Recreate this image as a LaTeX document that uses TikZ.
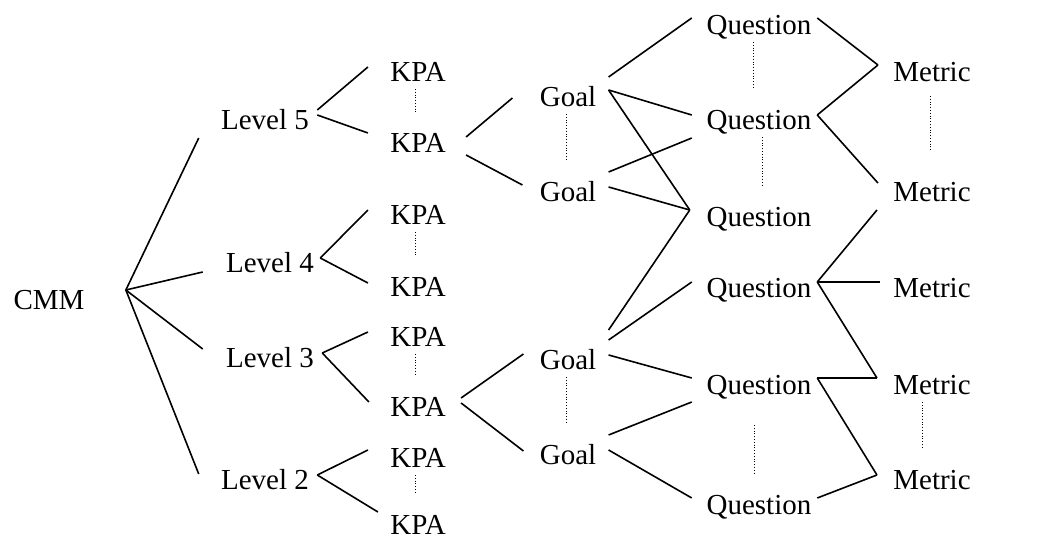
\documentclass[tikz,border=0pt]{standalone}
\usepackage{fontspec}
\setmainfont{Liberation Serif}
\tikzset{
  item/.style={inner sep=0pt, text height=9.6pt, text depth=0pt, font=\fontsize{14.5pt}{17pt}\selectfont},
  link/.style={line width=0.8pt},
  dotline/.style={densely dotted, line width=0.4pt, shorten <=3.5pt, shorten >=10.5pt}
}
\begin{document}
\begin{tikzpicture}[x=0.5pt,y=-0.5pt]
        \useasboundingbox (0,0) rectangle (1050,539);

        % Root
        \node[item] (cmm) at (49,300) {CMM};

        % Maturity levels
        \node[item] (l5) at (265,120) {Level 5};
        \node[item] (l4) at (270,263) {Level 4};
        \node[item] (l3) at (270,358) {Level 3};
        \node[item] (l2) at (265,480) {Level 2};

        % Key process areas
        \node[item] (k1) at (418,72) {KPA};
        \node[item] (k2) at (418,143) {KPA};
        \node[item] (k3) at (418,215) {KPA};
        \node[item] (k4) at (418,287) {KPA};
        \node[item] (k5) at (418,337) {KPA};
        \node[item] (k6) at (418,407) {KPA};
        \node[item] (k7) at (418,458) {KPA};
        \node[item] (k8) at (418,525) {KPA};

        % Goals
        \node[item] (g1) at (568,97) {Goal};
        \node[item] (g2) at (568,192) {Goal};
        \node[item] (g3) at (568,360) {Goal};
        \node[item] (g4) at (568,455) {Goal};

        % Questions
        \node[item] (q1) at (759,25) {Question};
        \node[item] (q2) at (759,120) {Question};
        \node[item] (q3) at (759,217) {Question};
        \node[item] (q4) at (759,288) {Question};
        \node[item] (q5) at (759,385) {Question};
        \node[item] (q6) at (759,505) {Question};

        % Metrics
        \node[item] (m1) at (932,72) {Metric};
        \node[item] (m2) at (932,192) {Metric};
        \node[item] (m3) at (932,288) {Metric};
        \node[item] (m4) at (932,385) {Metric};
        \node[item] (m5) at (932,480) {Metric};

        % CMM to levels
        \draw[link] ([shift={(41,-10)}]cmm.east) -- ([shift={(-22,18)}]l5.west);
        \draw[link] ([shift={(41,-10)}]cmm.east) -- ([shift={(-23,9)}]l4.west);
        \draw[link] ([shift={(41,-10)}]cmm.east) -- ([shift={(-23,-9)}]l3.west);
        \draw[link] ([shift={(41,-10)}]cmm.east) -- ([shift={(-22,-6)}]l2.west);

        % Levels to KPAs
        \draw[link] ([shift={(8,-10)}]l5.east) -- ([shift={(-22,-5)}]k1.west);
        \draw[link] ([shift={(8,-5)}]l5.east) -- ([shift={(-22,-10)}]k2.west);
        \draw[link] ([shift={(6,-5)}]l4.east) -- ([shift={(-22,-5)}]k3.west);
        \draw[link] ([shift={(6,-5)}]l4.east) -- ([shift={(-22,-4)}]k4.west);
        \draw[link] ([shift={(8,-5)}]l3.east) -- ([shift={(-22,-5)}]k5.west);
        \draw[link] ([shift={(8,-5)}]l3.east) -- ([shift={(-21,-5)}]k6.west);
        \draw[link] ([shift={(8,-5)}]l2.east) -- ([shift={(-22,-8)}]k7.west);
        \draw[link] ([shift={(8,-5)}]l2.east) -- ([shift={(-12,-13)}]k8.west);

        % KPAs to goals
        \draw[link] ([shift={(20,-6)}]k2.east) -- ([shift={(-27,1)}]g1.west);
        \draw[link] ([shift={(20,12)}]k2.east) -- ([shift={(-17,-7)}]g2.west);
        \draw[link] ([shift={(15,-9)}]k6.east) -- ([shift={(-16,-6)}]g3.west);
        \draw[link] ([shift={(15,-4)}]k6.east) -- ([shift={(-16,-4)}]g4.west);

        % Goals to questions
        \draw[link] ([shift={(12,-20)}]g1.east) -- ([shift={(-14.5,-7)}]q1.west);
        \draw[link] ([shift={(12,-7)}]g1.east) -- ([shift={(-14.5,-5)}]q2.west);
        \draw[link] ([shift={(12,-7)}]g1.east) -- ([shift={(-16.5,-7)}]q3.west);
        \draw[link] ([shift={(12,-20)}]g2.east) -- ([shift={(-14.5,18)}]q2.west);
        \draw[link] ([shift={(12,-5)}]g2.east) -- ([shift={(-16.5,-7)}]q3.west);
        \draw[link] ([shift={(12,-30)}]g3.east) -- ([shift={(-16.5,-7)}]q3.west);
        \draw[link] ([shift={(12,-20)}]g3.east) -- ([shift={(-14.5,-6)}]q4.west);
        \draw[link] ([shift={(12,-5)}]g3.east) -- ([shift={(-14.5,-7)}]q5.west);
        \draw[link] ([shift={(12,-20)}]g4.east) -- ([shift={(-14.5,17)}]q5.west);
        \draw[link] ([shift={(12,-5)}]g4.east) -- ([shift={(-14.5,-7)}]q6.west);

        % Questions to metrics
        \draw[link] ([shift={(5.5,-7)}]q1.east) -- ([shift={(-15,-7)}]m1.west);
        \draw[link] ([shift={(5.5,-5)}]q2.east) -- ([shift={(-15,-7)}]m1.west);
        \draw[link] ([shift={(5.5,-5)}]q2.east) -- ([shift={(-15,-9)}]m2.west);
        \draw[link] ([shift={(5.5,-6)}]q4.east) -- ([shift={(-16,18)}]m2.west);
        \draw[link] ([shift={(5.5,-6)}]q4.east) -- ([shift={(-13,-6)}]m3.west);
        \draw[link] ([shift={(5.5,-6)}]q4.east) -- ([shift={(-16,-7)}]m4.west);
        \draw[link] ([shift={(5.5,-7)}]q5.east) -- ([shift={(-16,-7)}]m4.west);
        \draw[link] ([shift={(5.5,-7)}]q5.east) -- ([shift={(-16,-5)}]m5.west);
        \draw[link] ([shift={(5.5,-7)}]q6.east) -- ([shift={(-16,-5)}]m5.west);

        % Dotted "and so on" marks
        \draw[dotline] ([xshift=-1.5pt]k1.south) -- ([xshift=-1.5pt]k2.north);
        \draw[dotline] ([xshift=-1.5pt]k3.south) -- ([xshift=-1.5pt]k4.north);
        \draw[dotline] ([xshift=-1.5pt]k5.south) -- ([xshift=-1.5pt]k6.north);
        \draw[dotline] ([xshift=-1.5pt]k7.south) -- ([xshift=-1.5pt]k8.north);
        \draw[dotline] ([xshift=-1pt]g1.south) -- ([xshift=-1pt]g2.north);
        \draw[dotline] ([xshift=-1pt]g3.south) -- ([xshift=-1pt]g4.north);
        \draw[dotline] ([xshift=-3pt]q1.south) -- ([xshift=-3pt]q2.north);
        \draw[dotline] ([xshift=1.5pt]q2.south) -- ([xshift=1.5pt]q3.north);
        \draw[dotline, shorten <=15pt] ([xshift=-2.5pt]q5.south) -- ([xshift=-2.5pt]q6.north);
        \draw[dotline, shorten <=7pt, shorten >=16pt] ([xshift=-1pt]m1.south) -- ([xshift=-1pt]m2.north);
        \draw[dotline] ([xshift=-5pt]m4.south) -- ([xshift=-5pt]m5.north);
\end{tikzpicture}
\end{document}
